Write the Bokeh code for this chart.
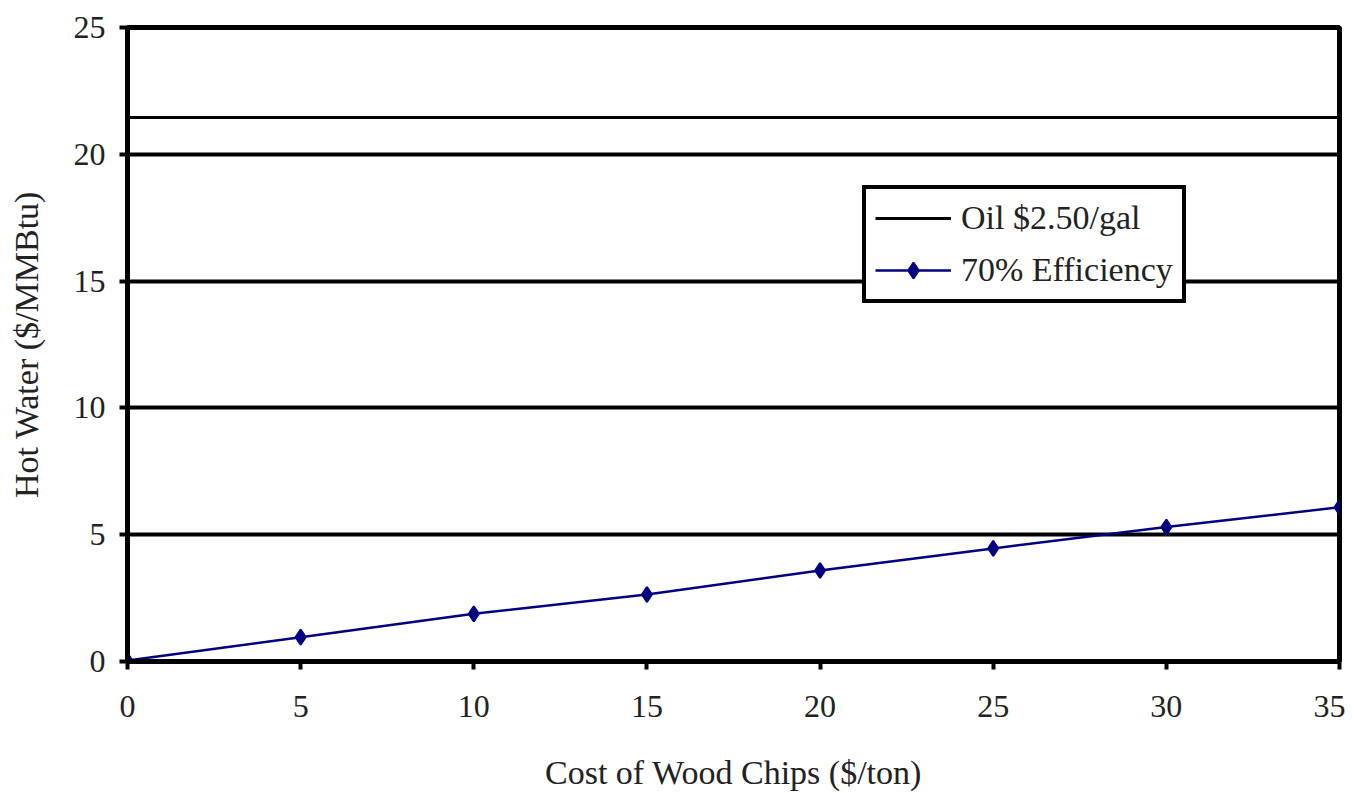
from bokeh.plotting import figure
from bokeh.models import Range1d, Legend, LegendItem, FixedTicker
from bokeh.embed import file_html
from bokeh.resources import INLINE

# Data
wood_cost = [0, 5, 10, 15, 20, 25, 30, 35]
efficiency_70 = [0.04, 0.96, 1.88, 2.64, 3.59, 4.46, 5.30, 6.08]
oil_cost = 21.45
oil_label = "Oil $2.50/gal"
eff_label = "70% Efficiency"
x_ticks = [0, 5, 10, 15, 20, 25, 30, 35]
y_ticks = [0, 5, 10, 15, 20, 25]

FONT = "Liberation Serif"

p = figure(width=1345, height=793, output_backend="svg", toolbar_location=None,
           x_range=Range1d(0, 35), y_range=Range1d(0, 25),
           min_border_left=127, min_border_right=6, min_border_top=27, min_border_bottom=132)
p.background_fill_color = "white"
p.border_fill_color = "white"
p.outline_line_color = "black"
p.outline_line_width = 5

oil_r = p.line([min(wood_cost), max(wood_cost)], [oil_cost, oil_cost], line_color="black", line_width=3)
eff_line = p.line(wood_cost, efficiency_70, line_color="#000080", line_width=2.5)
eff_pts = p.scatter(wood_cost, efficiency_70, marker="diamond", size=15, fill_color="#000080",
                    line_color="#000080", line_width=2)

p.xgrid.grid_line_color = None
p.ygrid.grid_line_color = "black"
p.ygrid.grid_line_width = 4
p.ygrid.ticker = FixedTicker(ticks=y_ticks)

p.xaxis.ticker = FixedTicker(ticks=x_ticks)
p.yaxis.ticker = FixedTicker(ticks=y_ticks)
for ax in (p.xaxis, p.yaxis):
    ax.axis_line_color = "black"
    ax.axis_line_width = 5
    ax.major_tick_line_color = "black"
    ax.major_tick_line_width = 4
    ax.major_tick_out = 8
    ax.major_tick_in = 0
    ax.minor_tick_line_color = None
    ax.major_label_text_font = FONT
    ax.major_label_text_font_size = "32px"
    ax.major_label_text_color = "#222222"
    ax.axis_label_text_font = FONT
    ax.axis_label_text_font_size = "34px"
    ax.axis_label_text_font_style = "normal"
    ax.axis_label_text_color = "#222222"

p.xaxis.major_label_standoff = 26
p.yaxis.major_label_standoff = 14
p.xaxis.axis_label = "Cost of Wood Chips ($/ton)"
p.yaxis.axis_label = "Hot Water ($/MMBtu)"
p.xaxis.axis_label_standoff = 34
p.yaxis.axis_label_standoff = 26

legend = Legend(items=[LegendItem(label=oil_label, renderers=[oil_r]),
                       LegendItem(label=eff_label, renderers=[eff_line, eff_pts])],
                location=(735, 358))
legend.label_text_font = FONT
legend.label_text_font_size = "34px"
legend.label_text_color = "#222222"
legend.border_line_color = "black"
legend.border_line_alpha = 1
legend.border_line_width = 4
legend.background_fill_color = "white"
legend.background_fill_alpha = 1
legend.glyph_width = 76
legend.glyph_height = 40
legend.label_height = 40
legend.spacing = 12
legend.padding = 9
legend.margin = 0
legend.label_standoff = 10
p.add_layout(legend, "center")

open("out.html", "w").write(file_html(p, INLINE))
